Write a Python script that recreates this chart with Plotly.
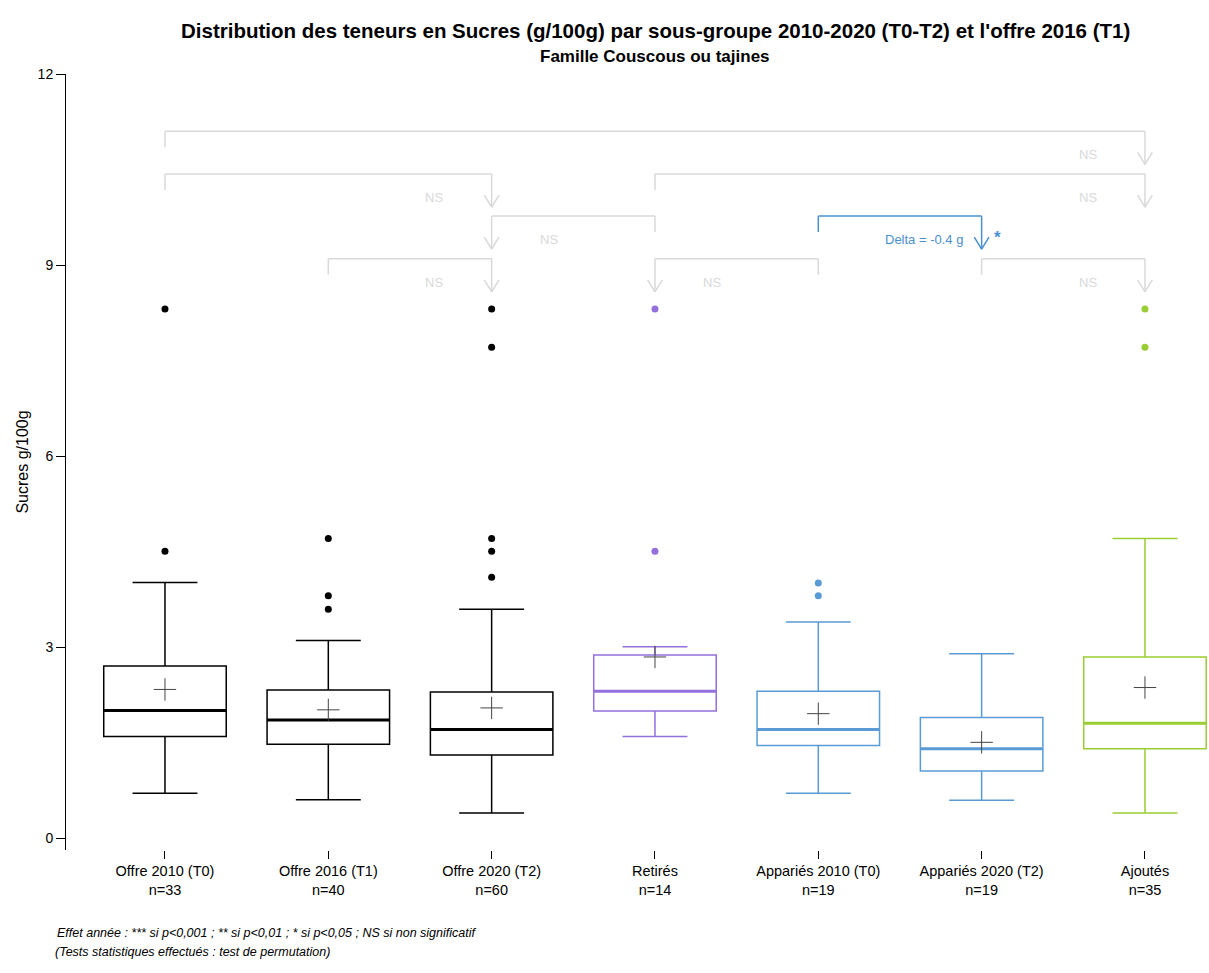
import plotly.graph_objects as go

# ---------------- data ----------------
categories = ["Offre 2010 (T0)", "Offre 2016 (T1)", "Offre 2020 (T2)", "Retirés",
              "Appariés 2010 (T0)", "Appariés 2020 (T2)", "Ajoutés"]
n_counts = [33, 40, 60, 14, 19, 19, 35]
q1 = [1.60, 1.48, 1.31, 2.00, 1.46, 1.06, 1.41]
medians = [2.01, 1.86, 1.71, 2.31, 1.71, 1.41, 1.81]
q3 = [2.71, 2.33, 2.30, 2.88, 2.31, 1.90, 2.85]
lower_whisker = [0.71, 0.61, 0.40, 1.60, 0.71, 0.60, 0.40]
upper_whisker = [4.02, 3.11, 3.60, 3.01, 3.40, 2.90, 4.71]
means = [2.34, 2.02, 2.05, 2.85, 1.96, 1.51, 2.37]
outliers = [[4.51, 8.31], [3.60, 3.81, 4.71], [4.10, 4.51, 4.71, 7.71, 8.31],
            [4.51, 8.31], [3.81, 4.01], [], [7.71, 8.31]]
colors = ["#000000", "#000000", "#000000", "#9370DB", "#5B9BD5", "#5B9BD5", "#9ACD32"]

# comparisons: (from group, to group (arrow), level, label, colour)
comparisons = [
    (0, 6, 11.10, "NS", "#D9D9D9"),
    (0, 2, 10.43, "NS", "#D9D9D9"),
    (3, 6, 10.43, "NS", "#D9D9D9"),
    (3, 2, 9.77, "NS", "#D9D9D9"),
    (4, 5, 9.77, "Delta = -0.4 g", "#4A90D0"),
    (1, 2, 9.10, "NS", "#D9D9D9"),
    (4, 3, 9.10, "NS", "#D9D9D9"),
    (5, 6, 9.10, "NS", "#D9D9D9"),
]
star_labels = {4: "*"}

positions = list(range(1, len(categories) + 1))
box_width = 0.75
FONT = "Liberation Sans, Arial, sans-serif"

LEFT = 66
PLOT_W = 1209 - LEFT
X_MIN = 0.394
X_MAX = X_MIN + PLOT_W / 163.33

fig = go.Figure()

for i, p in enumerate(positions):
    c = colors[i]
    lw = 1.5
    fig.add_trace(go.Box(
        x=[p], q1=[q1[i]], median=[medians[i]], q3=[q3[i]],
        lowerfence=[lower_whisker[i]], upperfence=[upper_whisker[i]],
        width=box_width, whiskerwidth=0.53,
        line=dict(color=c, width=lw), fillcolor="rgba(255,255,255,0)",
        boxpoints=False, showlegend=False, hoverinfo="skip"))
    # thick median
    fig.add_trace(go.Scatter(
        x=[p - box_width / 2, p + box_width / 2], y=[medians[i], medians[i]],
        mode="lines", line=dict(color=c, width=3), showlegend=False, hoverinfo="skip"))
    # outliers
    if outliers[i]:
        fig.add_trace(go.Scatter(
            x=[p] * len(outliers[i]), y=outliers[i], mode="markers",
            marker=dict(color=c, size=7, symbol="circle"),
            showlegend=False, hoverinfo="skip"))
    # mean
    fig.add_trace(go.Scatter(
        x=[p], y=[means[i]], mode="markers",
        marker=dict(symbol="cross-thin", size=16, line=dict(color="#444444", width=1)),
        showlegend=False, hoverinfo="skip"))

# brackets
tick_drop = 0.25
arrow_drop = 0.52
head_dx = 0.045
head_dy = 0.19
for (src, dst, lev, lab, col) in comparisons:
    xs, xd = positions[src], positions[dst]
    line = dict(color=col, width=1.5)
    fig.add_shape(type="line", x0=xs, x1=xd, y0=lev, y1=lev, line=line)
    fig.add_shape(type="line", x0=xs, x1=xs, y0=lev, y1=lev - tick_drop, line=line)
    fig.add_shape(type="line", x0=xd, x1=xd, y0=lev, y1=lev - arrow_drop, line=line)
    fig.add_shape(type="line", x0=xd - head_dx, x1=xd, y0=lev - arrow_drop + head_dy,
                  y1=lev - arrow_drop, line=line)
    fig.add_shape(type="line", x0=xd + head_dx, x1=xd, y0=lev - arrow_drop + head_dy,
                  y1=lev - arrow_drop, line=line)
    offset = 0.35 if dst < src else -0.35
    fig.add_annotation(x=xd + offset, y=lev - 0.37, text=lab, showarrow=False,
                       font=dict(family=FONT, size=13, color=col),
                       xanchor="center", yanchor="middle")
    if src in star_labels and col != "#D9D9D9":
        fig.add_annotation(x=xd + 0.1, y=lev - 0.33, text="<b>" + star_labels[src] + "</b>",
                           showarrow=False,
                           font=dict(family=FONT, size=17, color=col),
                           xanchor="center", yanchor="middle")

ticktext = [f"{c}<br>n={n}" for c, n in zip(categories, n_counts)]

title_x = (655 - LEFT) / PLOT_W
fig.add_annotation(xref="paper", yref="paper", x=title_x, y=1.0, yshift=44,
                   text="<b>Distribution des teneurs en Sucres (g/100g) par sous-groupe 2010-2020 (T0-T2) et l'offre 2016 (T1)</b>",
                   showarrow=False, font=dict(family=FONT, size=20.5, color="black"),
                   xanchor="center", yanchor="middle")
fig.add_annotation(xref="paper", yref="paper", x=title_x, y=1.0, yshift=18,
                   text="<b>Famille Couscous ou tajines</b>",
                   showarrow=False, font=dict(family=FONT, size=17, color="black"),
                   xanchor="center", yanchor="middle")
fig.add_annotation(xref="paper", yref="paper", x=-11 / PLOT_W, y=0, yshift=-83,
                   text="<i>Effet année : *** si p<0,001 ; ** si p<0,01 ; * si p<0,05 ; NS si non significatif</i>",
                   showarrow=False, font=dict(family=FONT, size=12.5, color="black"),
                   xanchor="left", yanchor="middle")
fig.add_annotation(xref="paper", yref="paper", x=-13 / PLOT_W, y=0, yshift=-102,
                   text="<i>(Tests statistiques effectués : test de permutation)</i>",
                   showarrow=False, font=dict(family=FONT, size=12.5, color="black"),
                   xanchor="left", yanchor="middle")

fig.update_layout(
    width=1209, height=973,
    margin=dict(l=LEFT, r=0, t=74, b=122.5),
    paper_bgcolor="white", plot_bgcolor="white",
    font=dict(family=FONT, size=14, color="black"),
    showlegend=False,
    xaxis=dict(range=[X_MIN, X_MAX], tickvals=positions, ticktext=ticktext,
               ticks="outside", ticklen=8, tickcolor="black", tickwidth=1,
               showline=False, showgrid=False, zeroline=False,
               tickfont=dict(family=FONT, size=14.5, color="black")),
    yaxis=dict(range=[-0.18, 12.0], tickvals=[0, 3, 6, 9, 12],
               ticks="outside", ticklen=9, tickcolor="black",
               showline=True, linecolor="black", linewidth=1,
               showgrid=False, zeroline=False,
               tickfont=dict(family=FONT, size=14, color="black"),
               title=dict(text="Sucres g/100g", standoff=5,
                          font=dict(family=FONT, size=16, color="black"))),
)

fig.write_html("out.html",
               config={"displayModeBar": False},
               post_script="document.body.style.margin='0';document.body.style.overflow='hidden';"
                           "document.documentElement.style.overflow='hidden';")
